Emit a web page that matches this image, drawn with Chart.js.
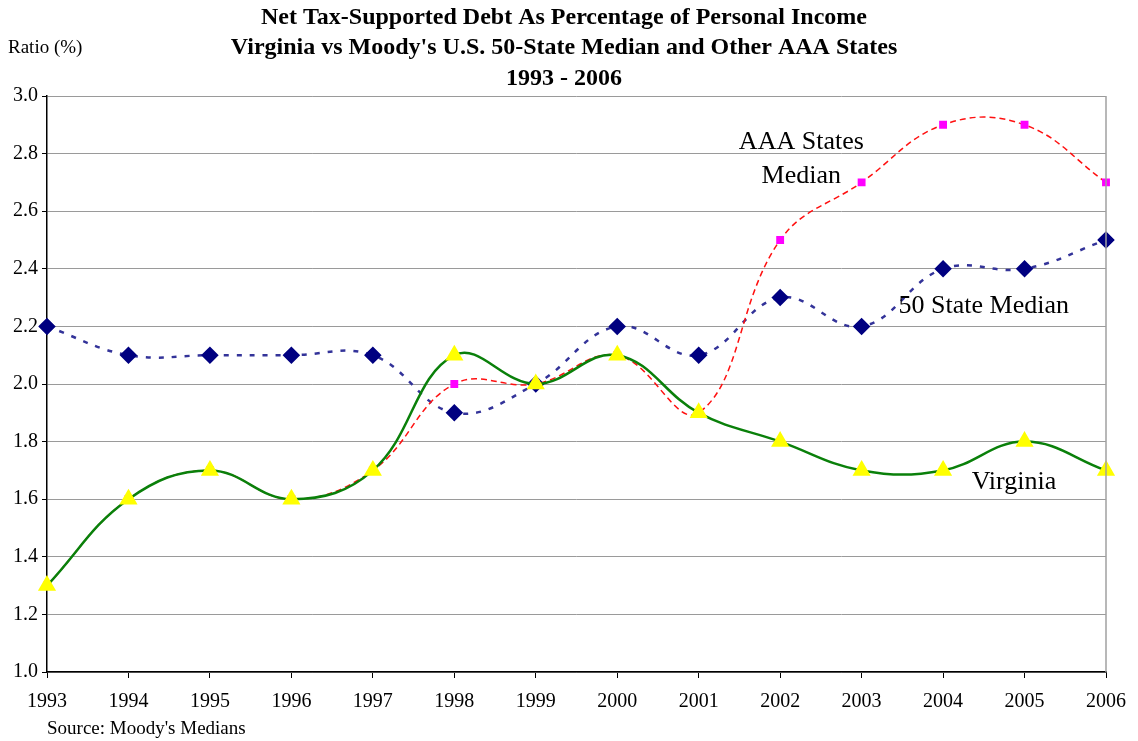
<!DOCTYPE html>
<html>
<head>
<meta charset="utf-8">
<script src="https://cdn.jsdelivr.net/npm/chart.js@4.4.1/dist/chart.umd.min.js"></script>
<style>
  html, body { margin: 0; padding: 0; background: #fff; }
  #wrap { width: 1138px; height: 741px; position: relative; }
</style>
</head>
<body>
<div id="wrap"><canvas id="debtChart" width="1138" height="741"></canvas></div>
<script>
const years = ['1993', '1994', '1995', '1996', '1997', '1998', '1999', '2000', '2001', '2002', '2003', '2004', '2005', '2006'];
const virginia = [1.3, 1.6, 1.7, 1.6, 1.7, 2.1, 2.0, 2.1, 1.9, 1.8, 1.7, 1.7, 1.8, 1.7];
const stateMedian = [2.2, 2.1, 2.1, 2.1, 2.1, 1.9, 2.0, 2.2, 2.1, 2.3, 2.2, 2.4, 2.4, 2.5];
const aaaMedian = [1.3, 1.6, 1.7, 1.6, 1.7, 2.0, 2.0, 2.1, 1.9, 2.5, 2.7, 2.9, 2.9, 2.7];

const titleLines = [
    'Net Tax-Supported Debt As Percentage of Personal Income',
    "Virginia vs Moody's U.S. 50-State Median and Other AAA States",
    '1993 - 2006'
];

// series labels placed in data coordinates (x = category index, y = value)
const seriesLabels = [
    { text: 'AAA States', x: 9.26, y: 2.84 },
    { text: 'Median', x: 9.26, y: 2.722 },
    { text: '50 State Median', x: 11.5, y: 2.27 },
    { text: 'Virginia', x: 11.87, y: 1.66 }
];

const serif = "'Liberation Serif', 'Times New Roman', serif";

const decorPlugin = {
    id: 'decor',
    afterDraw(chart) {
        const ctx = chart.ctx;
        const area = chart.chartArea;
        const xs = chart.scales.x;
        const ys = chart.scales.y;
        ctx.save();

        // right frame line
        ctx.strokeStyle = '#a0a0a0';
        ctx.lineWidth = 1.5;
        ctx.beginPath();
        ctx.moveTo(area.right, area.top);
        ctx.lineTo(area.right, area.bottom);
        ctx.stroke();

        // titles
        ctx.fillStyle = '#000';
        ctx.textAlign = 'center';
        ctx.textBaseline = 'middle';
        ctx.font = 'bold 24px ' + serif;
        const cx = 564;
        const ty = [18, 48, 79];
        titleLines.forEach((t, i) => ctx.fillText(t, cx, ty[i]));

        // axis caption and source
        ctx.textAlign = 'left';
        ctx.font = '19px ' + serif;
        ctx.fillText('Ratio (%)', 8, 48);
        ctx.fillText("Source: Moody's Medians", 47, 729);

        // series labels
        ctx.textAlign = 'center';
        ctx.font = '26px ' + serif;
        seriesLabels.forEach(l => {
            const px = xs.getPixelForValue(l.x);
            const py = ys.getPixelForValue(l.y);
            ctx.fillText(l.text, px, py);
        });
        ctx.restore();
    }
};

const ctx = document.getElementById('debtChart').getContext('2d');
new Chart(ctx, {
    type: 'line',
    data: {
        labels: years,
        datasets: [
            {
                label: 'Virginia',
                data: virginia,
                borderColor: '#0a800a',
                borderWidth: 2.5,
                tension: 0.4,
                pointStyle: 'triangle',
                pointRadius: 8,
                pointBackgroundColor: '#ffff00',
                pointBorderColor: '#ffff00',
                order: 1
            },
            {
                label: 'AAA States Median',
                data: aaaMedian,
                borderColor: '#ff1010',
                borderWidth: 1.5,
                borderDash: [6, 4],
                tension: 0.4,
                pointStyle: 'rect',
                pointRadius: 4.5,
                pointBackgroundColor: '#ff00ff',
                pointBorderColor: '#ff00ff',
                order: 2
            },
            {
                label: '50 State Median',
                data: stateMedian,
                borderColor: '#333399',
                borderWidth: 2.5,
                borderDash: [5, 8],
                tension: 0.4,
                pointStyle: 'rectRot',
                pointRadius: 7,
                pointBackgroundColor: '#000080',
                pointBorderColor: '#000080',
                order: 3
            }
        ]
    },
    options: {
        responsive: false,
        animation: false,
        layout: { padding: { top: 96, left: 9, right: 29, bottom: 15 } },
        plugins: {
            legend: { display: false },
            title: { display: false },
            tooltip: { enabled: false }
        },
        scales: {
            x: {
                offset: false,
                grid: {
                    display: true,
                    drawOnChartArea: false,
                    drawTicks: true,
                    tickLength: 6,
                    color: '#000'
                },
                border: { color: '#000', width: 1.5 },
                ticks: {
                    color: '#000',
                    font: { family: serif, size: 20 },
                    padding: 12,
                    maxRotation: 0,
                    autoSkip: false
                }
            },
            y: {
                min: 1.0,
                max: 3.0,
                grid: {
                    color: '#9a9a9a',
                    lineWidth: 1,
                    drawTicks: true,
                    tickLength: 5,
                    tickColor: '#000'
                },
                border: { color: '#000', width: 1.5 },
                ticks: {
                    stepSize: 0.2,
                    color: '#000',
                    font: { family: serif, size: 20 },
                    padding: 4,
                    callback: v => v.toFixed(1)
                }
            }
        }
    },
    plugins: [decorPlugin]
});
</script>
</body>
</html>
